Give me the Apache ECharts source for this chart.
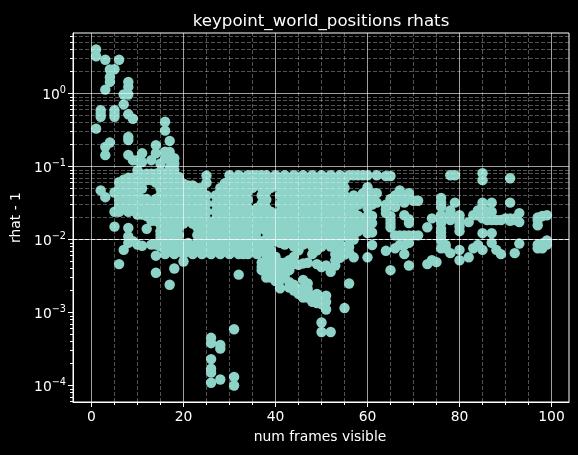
<!DOCTYPE html>
<html><head><meta charset="utf-8">
<style>html,body{margin:0;padding:0;background:#000}#c{width:578px;height:455px}</style>
<script src="https://cdn.jsdelivr.net/npm/echarts@6/dist/echarts.min.js"></script>
</head><body><div id="c"></div>
<script>
const titleText = 'keypoint_world_positions rhats';
const xLabel = 'num frames visible';
const yLabel = 'rhat - 1';
const xMajor = [0,20,40,60,80,100];
const xMinor = [5,10,15,25,30,35,45,50,55,65,70,75,85,90,95];
const yMajor = [1e-4,1e-3,1e-2,1e-1,1];
const yMinor = [6e-5,7e-5,8e-5,9e-5,2e-4,3e-4,4e-4,5e-4,6e-4,7e-4,8e-4,9e-4,2e-3,3e-3,4e-3,5e-3,6e-3,7e-3,8e-3,9e-3,
  .02,.03,.04,.05,.06,.07,.08,.09,.2,.3,.4,.5,.6,.7,.8,.9,2,3,4,5,6];
const frames = [1,2,3,4,5,6,7,8,9,10,11,12,13,14,15,16,17,18,19,20,21,22,23,24,25,26,27,28,29,30,
  31,32,33,34,35,36,37,38,39,40,41,42,43,44,45,46,47,48,49,50,51,52,53,54,55,56,57,58,59,60,
  61,62,64,65,66,67,68,69,70,71,73,74,75,76,77,78,79,80,82,83,84,85,86,87,88,89,90,91,92,93,97,98,99];
const rhatByFrame = [
 [4.0,3.24,.33],
 [.59,.53,.48,.047],
 [2.9,1.13,.186,.143,.038],
 [2.13,1.67,1.44,.213],
 [2.15,.59,.53,.48,.044,.024,.015],
 [2.9,.061,.05,.04,.035,.03,.027,.024,.0046],
 [.97,.71,.066,.056,.045,.035,.03,.026,.0072],
 [1.44,1.23,.97,.52,.254,.23,.144,.07,.06,.05,.04,.03,.024,.0144,.011,.009],
 [.45,.122,.07,.055,.042,.036,.03,.025,.0095],
 [.122,.089,.065,.05,.042,.035,.03,.026,.022,.0085],
 [.152,.115,.078,.06,.05,.036,.03,.026,.022,.0082],
 [.08,.065,.036,.03,.025,.021,.014],
 [.122,.08,.065,.03,.025,.022,.018,.0085],
 [.196,.152,.08,.06,.036,.03,.025,.021,.018,.0085,.006,.0035],
 [.11,.085,.065,.05,.04,.033,.027,.023,.02,.016,.013,.0115,.0102,.008],
 [.41,.31,.16,.13,.078,.06,.047,.035,.027,.021,.0165,.013,.0102,.008,.0063],
 [.224,.158,.122,.095,.066,.051,.04,.031,.024,.0187,.0147,.0115,.009,.0071,.0024],
 [.13,.11,.09,.076,.058,.045,.035,.027,.021,.0165,.013,.0102,.008,.0063,.004],
 [.072,.051,.04,.031,.024,.0187,.0147,.0115,.009,.0071],
 [.058,.045,.035,.027,.021,.0165,.008,.0063,.005],
 [.055,.04,.031,.024,.0187,.009,.0071],
 [.055,.045,.035,.027,.021,.0165,.008,.0063],
 [.051,.04,.031,.024,.0187,.0147,.0115,.009,.0071],
 [.051,.045,.035,.027,.021,.0165,.013,.0102,.008,.0063],
 [.075,.06,.04,.031,.024,.0187,.0147,.0115,.009,.0071],
 [.0165,.013,.0102,.008,.0063],
 [.04,.031,.024,.0187,.0147,.0115,.009,.0071],
 [.051,.045,.035,.027,.021,.0165,.013,.0102,.008,.0063],
 [.059,.051,.04,.031,.024,.0187,.0147,.0115,.009,.0071],
 [.076,.058,.045,.035,.027,.021,.0165,.013,.0102,.008,.0063],
 [.066,.051,.04,.031,.024,.0187,.0147,.0115,.009,.0071],
 [.076,.058,.045,.035,.027,.021,.0165,.013,.0102,.008,.0063,.0033],
 [.066,.051,.04,.031,.024,.0187,.0147,.0115,.009,.0071,.0063],
 [.076,.058,.045,.035,.027,.021,.0165,.013,.0102,.008,.0063],
 [.076,.066,.051,.024,.0187,.0147,.0115,.009,.0071],
 [.076,.058,.027,.021,.0165,.013,.0102,.008,.0063],
 [.076,.066,.051,.04,.031,.024,.0187,.0147,.009,.0071,.0048,.0042,.0038],
 [.076,.058,.045,.035,.027,.021,.0165,.013,.0102,.008,.0063,.0052,.0042,.0036,.0034,.003],
 [.066,.051,.024,.0187,.0147,.0115,.009,.0071,.0055,.0045,.0038,.0033,.003],
 [.076,.058,.021,.0165,.013,.0102,.0095,.0058,.0042,.0036,.0032,.0027],
 [.066,.051,.04,.031,.024,.0187,.0147,.0115,.009,.0048,.0038,.0033,.0028,.00215],
 [.076,.058,.045,.035,.027,.021,.0165,.013,.0102,.0085,.0048,.0038,.0032],
 [.066,.051,.04,.031,.024,.0187,.0147,.0115,.009,.0052,.0038,.0026,.0022],
 [.076,.058,.045,.035,.027,.021,.0165,.013,.0102,.008,.0058,.0046,.0024,.002],
 [.066,.051,.04,.031,.024,.0187,.0147,.0115,.009,.0071,.0045,.0021,.0018],
 [.076,.058,.045,.035,.027,.021,.0165,.013,.0102,.0085,.0047,.0028,.0021,.0018,.0016],
 [.066,.051,.04,.031,.024,.0187,.0147,.0115,.009,.0048,.0025,.0021,.0016],
 [.076,.058,.045,.035,.027,.021,.0165,.013,.0102,.008,.0063,.0017,.0014],
 [.066,.051,.04,.031,.024,.0187,.0147,.0115,.009,.0071,.0046,.0018,.0016,.00135],
 [.076,.058,.045,.035,.027,.021,.0165,.013,.0102,.008,.0042,.0016,.0013,.00073,.00054],
 [.066,.051,.04,.031,.024,.0187,.0147,.0115,.009,.0044,.0017,.0014,.0011],
 [.076,.058,.045,.035,.027,.021,.0165,.013,.0102,.008,.0036,.00054],
 [.066,.051,.04,.031,.024,.0187,.0147,.0115,.009,.0063,.0052,.0044],
 [.076,.058,.045,.035,.027,.021,.0165,.013,.0102,.0072,.0056],
 [.066,.051,.04,.031,.024,.0187,.0147,.0115,.0079,.0062,.00115],
 [.076,.035,.027,.021,.0165,.013,.0102,.0079,.0066,.0025],
 [.076,.04,.031,.024,.0187,.0147,.0115,.01,.0057],
 [.076,.035,.03,.021,.0165,.013],
 [.076,.043,.036,.0187,.0147],
 [.076,.052,.04,.033,.027,.021,.0165,.0122,.0057],
 [.043,.036,.03,.021,.0168,.0125,.0084],
 [.076,.043,.032],
 [.074,.03,.026,.023,.007],
 [.074,.036,.03,.021,.0185,.0165,.0147,.0038],
 [.04,.034,.028,.0114,.0076],
 [.047,.04,.0114,.0084],
 [.04,.032,.0215,.0114,.0084,.0063],
 [.043,.037,.019,.0168,.0114,.009,.0044],
 [.034,.0114],
 [.034,.0114],
 [.0147,.0046],
 [.0195,.0052],
 [.0049],
 [.037,.032,.028,.0215,.018,.0168,.014,.0125,.011,.0097,.0076],
 [.02,.0084,.0076],
 [.076,.025,.0185,.02,.0065],
 [.076,.032,.02],
 [.0215,.0185,.0168,.015,.013,.0072,.0052],
 [.0173,.0057],
 [.0215,.0076],
 [.025,.0215,.0084],
 [.081,.065,.032,.028,.024,.0215,.0195,.0122,.0072],
 [.024,.0185],
 [.032,.024,.0185,.0122,.009],
 [.0185,.0072],
 [.0185,.0063],
 [.0195],
 [.069,.032,.0195,.018],
 [.0195,.0185,.0065],
 [.023,.0173,.0088],
 [.02,.0185,.0157,.0085,.0076],
 [.021,.0088,.0076],
 [.0215,.0097,.0085]
];
const extraFrames = [26,26,26,26,26,26,28,28,28,31,31,31];
const extraRhat = [.00045,.00038,.00023,.00017,.00015,.000109,.00036,.00032,.000121,.00059,.000131,.0001];

const points = [];
frames.forEach((f,i)=>rhatByFrame[i].forEach(v=>points.push([f,v])));
extraFrames.forEach((f,i)=>points.push([f,extraRhat[i]]));

const font = 'DejaVu Sans';
const xRange = [-4.02,103.8], yRange = [5.943e-5,6.742];
const majorStyle = {color:'rgba(255,255,255,0.62)',width:1,type:'solid'};
const minorStyle = {color:'rgba(255,255,255,0.32)',width:1,type:[4,2]};
const pow = v => { const e=Math.round(Math.log10(v)); return '{b|10}{s|'+(e<0?'\u2212'+(-e):e)+'}'; };
const gridSeries = (xs,ys,style)=>({
  type:'line',data:[],xAxisIndex:0,yAxisIndex:0,z:5,silent:true,
  markLine:{silent:true,symbol:['none','none'],animation:false,label:{show:false},lineStyle:style,z:5,
    data:xs.map(v=>({xAxis:v})).concat(ys.map(v=>({yAxis:v})))}
});
const chart = echarts.init(document.getElementById('c'),null,{renderer:'canvas'});
chart.setOption({
  animation:false,backgroundColor:'#000',
  title:{text:titleText,left:316,top:8,textAlign:'center',textStyle:{color:'#fff',fontFamily:font,fontSize:16.67,fontWeight:'normal'}},
  grid:{left:73,right:9,top:33,bottom:53,show:true,borderColor:'#fff',borderWidth:1,backgroundColor:'transparent'},
  xAxis:[
   {type:'value',position:'bottom',min:xRange[0],max:xRange[1],name:xLabel,nameLocation:'middle',nameGap:28,
    nameTextStyle:{color:'#fff',fontFamily:font,fontSize:13.89,padding:[0,2,0,0]},
    axisLine:{show:true,onZero:false,lineStyle:{color:'#fff'}},
    axisTick:{show:true,length:5,lineStyle:{color:'#fff'},customValues:xMajor},
    axisLabel:{color:'#fff',fontFamily:font,fontSize:13.89,margin:8,customValues:xMajor,showMinLabel:true,showMaxLabel:true},
    splitLine:{show:false}},
   {type:'value',position:'bottom',min:xRange[0],max:xRange[1],
    axisLine:{show:false,onZero:false},
    axisTick:{show:true,length:3,lineStyle:{color:'#fff'},customValues:xMinor},
    axisLabel:{show:false},splitLine:{show:false}}
  ],
  yAxis:[
   {type:'log',logBase:10,position:'left',min:yRange[0],max:yRange[1],name:yLabel,nameLocation:'middle',nameGap:50,
    nameTextStyle:{color:'#fff',fontFamily:font,fontSize:13.89},
    axisLine:{show:true,onZero:false,lineStyle:{color:'#fff'}},
    axisTick:{show:true,length:5,lineStyle:{color:'#fff'},customValues:yMajor},
    axisLabel:{color:'#fff',fontFamily:font,margin:7,customValues:yMajor,formatter:pow,
      rich:{b:{color:'#fff',fontFamily:font,fontSize:13.89,padding:[4,0,0,0]},
            s:{color:'#fff',fontFamily:font,fontSize:9.7,padding:[0,0,6,0]}}},
    splitLine:{show:false}},
   {type:'log',logBase:10,position:'left',min:yRange[0],max:yRange[1],
    axisLine:{show:false,onZero:false},
    axisTick:{show:true,length:3,lineStyle:{color:'#fff'},customValues:yMinor},
    axisLabel:{show:false},splitLine:{show:false}}
  ],
  series:[
   {type:'scatter',data:points,xAxisIndex:0,yAxisIndex:0,symbol:'circle',symbolSize:10.4,z:2,
    itemStyle:{color:'#8dd3c7',opacity:1},silent:true},
   gridSeries(xMinor,yMinor,minorStyle),
   gridSeries(xMajor,yMajor,majorStyle)
  ]
});
</script></body></html>
